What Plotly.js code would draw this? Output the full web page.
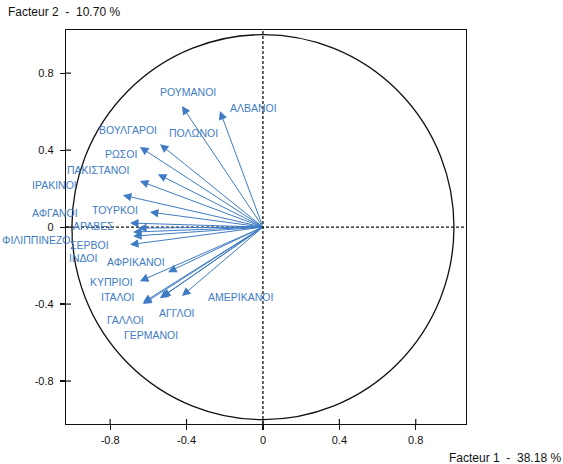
<!DOCTYPE html>
<html>
<head>
<meta charset="utf-8">
<script src="https://cdn.plot.ly/plotly-3.0.1.min.js"></script>
<style>html,body{margin:0;padding:0;background:#fff;}#chart{width:563px;height:464px;}</style>
</head>
<body>
<div id="chart"></div>
<script>
// Variables (nationalities) and their coordinates on factors 1 and 2
const names = ["ΡΟΥΜΑΝΟΙ","ΑΛΒΑΝΟΙ","ΠΟΛΩΝΟΙ","ΒΟΥΛΓΑΡΟΙ","ΡΩΣΟΙ","ΠΑΚΙΣΤΑΝΟΙ","ΙΡΑΚΙΝΟΙ","ΤΟΥΡΚΟΙ","ΑΦΓΑΝΟΙ","ΑΡΑΒΕΣ","ΦΙΛΙΠΠΙΝΕΖΟΙ","ΣΕΡΒΟΙ","ΙΝΔΟΙ","ΑΦΡΙΚΑΝΟΙ","ΚΥΠΡΙΟΙ","ΙΤΑΛΟΙ","ΓΑΛΛΟΙ","ΓΕΡΜΑΝΟΙ","ΑΓΓΛΟΙ","ΑΜΕΡΙΚΑΝΟΙ"];
const factor1 = [-0.424,-0.225,-0.539,-0.644,-0.550,-0.644,-0.733,-0.592,-0.696,-0.654,-0.680,-0.680,-0.696,-0.497,-0.644,-0.628,-0.628,-0.540,-0.529,-0.424];
const factor2 = [0.629,0.603,0.431,0.416,0.275,0.239,0.166,0.078,0.021,-0.005,-0.026,-0.047,-0.091,-0.234,-0.281,-0.392,-0.400,-0.370,-0.364,-0.358];
const tickVals = [-0.8,-0.4,0,0.4,0.8];
const tickText = ["-0.8","-0.4","0","0.4","0.8"];
const xTitle = "Facteur 1  -  38.18 %";
const yTitle = "Facteur 2  -  10.70 %";

// label placement (data units), kept apart from the values
const labelX = [-0.393,-0.047,-0.366,-0.707,-0.743,-0.864,-1.089,-0.775,-1.089,-0.885,-1.180,-0.906,-0.942,-0.665,-0.791,-0.759,-0.717,-0.586,-0.450,-0.120];
const labelY = [0.701,0.618,0.488,0.504,0.379,0.296,0.218,0.088,0.073,0.005,-0.068,-0.092,-0.161,-0.182,-0.286,-0.364,-0.483,-0.561,-0.447,-0.364];

const xRange = [-1.031, 1.063];
const yRange = [-1.023, 1.024];
const toPaperX = v => (v - xRange[0]) / (xRange[1] - xRange[0]);
const toPaperY = v => (v - yRange[0]) / (yRange[1] - yRange[0]);

const FONT = "Liberation Sans, Arial, sans-serif";
const blue = "#3f7cc4";
const ann = [];
for (let i = 0; i < names.length; i++) {
  ann.push({x: factor1[i], y: factor2[i], xref: "x", yref: "y", ax: 0, ay: 0, axref: "x", ayref: "y",
    text: "", showarrow: true, arrowhead: 2, arrowsize: 1.7, arrowwidth: 1, arrowcolor: blue});
}
for (let i = 0; i < names.length; i++) {
  ann.push({x: toPaperX(labelX[i]), y: toPaperY(labelY[i]), xref: "paper", yref: "paper",
    xanchor: "center", yanchor: "middle", text: names[i], showarrow: false,
    font: {family: FONT, size: 10.5, color: blue}});
}
ann.push({x: 0, y: 1, xref: "paper", yref: "paper", xanchor: "left", yanchor: "bottom", xshift: -60, yshift: 9,
  text: yTitle, showarrow: false, font: {family: FONT, size: 12, color: "#111"}});
ann.push({x: 1, y: 0, xref: "paper", yref: "paper", xanchor: "right", yanchor: "top", xshift: 97, yshift: -25,
  text: xTitle, showarrow: false, font: {family: FONT, size: 12, color: "#111"}});

const axCommon = {tickvals: tickVals, ticktext: tickText, showgrid: false, zeroline: false,
  showline: true, linecolor: "#111", linewidth: 1.2, mirror: true, ticks: "outside", ticklen: 5,
  tickcolor: "#111", tickwidth: 1.2, tickfont: {family: FONT, size: 11, color: "#111"}};

const shapes = [
  {type: "circle", xref: "x", yref: "y", x0: -1, x1: 1, y0: -1, y1: 1, line: {color: "#111", width: 1.3}},
  {type: "line", xref: "paper", yref: "y", x0: 0, x1: 1, y0: 0, y1: 0, line: {color: "#111", width: 1.3, dash: "3px,2px"}, layer: "below"},
  {type: "line", xref: "x", yref: "paper", x0: 0, x1: 0, y0: 0, y1: 1, line: {color: "#111", width: 1.3, dash: "3px,2px"}, layer: "below"}
];
// inner halves of the cross-shaped ticks
tickVals.forEach(v => {
  shapes.push({type: "line", xref: "x", yref: "y", x0: v, x1: v, ysizemode: "pixel", yanchor: yRange[0], y0: 0, y1: 5, line: {color: "#111", width: 1.2}});
  shapes.push({type: "line", xref: "x", yref: "y", y0: v, y1: v, xsizemode: "pixel", xanchor: xRange[0], x0: 0, x1: 5, line: {color: "#111", width: 1.2}});
});

const layout = {
  width: 563, height: 464,
  margin: {l: 66, r: 97, t: 30, b: 40},
  paper_bgcolor: "#fff", plot_bgcolor: "#fff",
  showlegend: false,
  xaxis: Object.assign({}, axCommon, {range: xRange, ticklabelstandoff: 1}),
  yaxis: Object.assign({}, axCommon, {range: yRange, ticklabelstandoff: 4}),
  shapes: shapes,
  annotations: ann
};

const traces = [
  {x: factor1, y: factor2, type: "scatter", mode: "markers", marker: {size: 1, color: "rgba(0,0,0,0)"}, hoverinfo: "skip"}
];

Plotly.newPlot("chart", traces, layout, {staticPlot: true});
</script>
</body>
</html>
